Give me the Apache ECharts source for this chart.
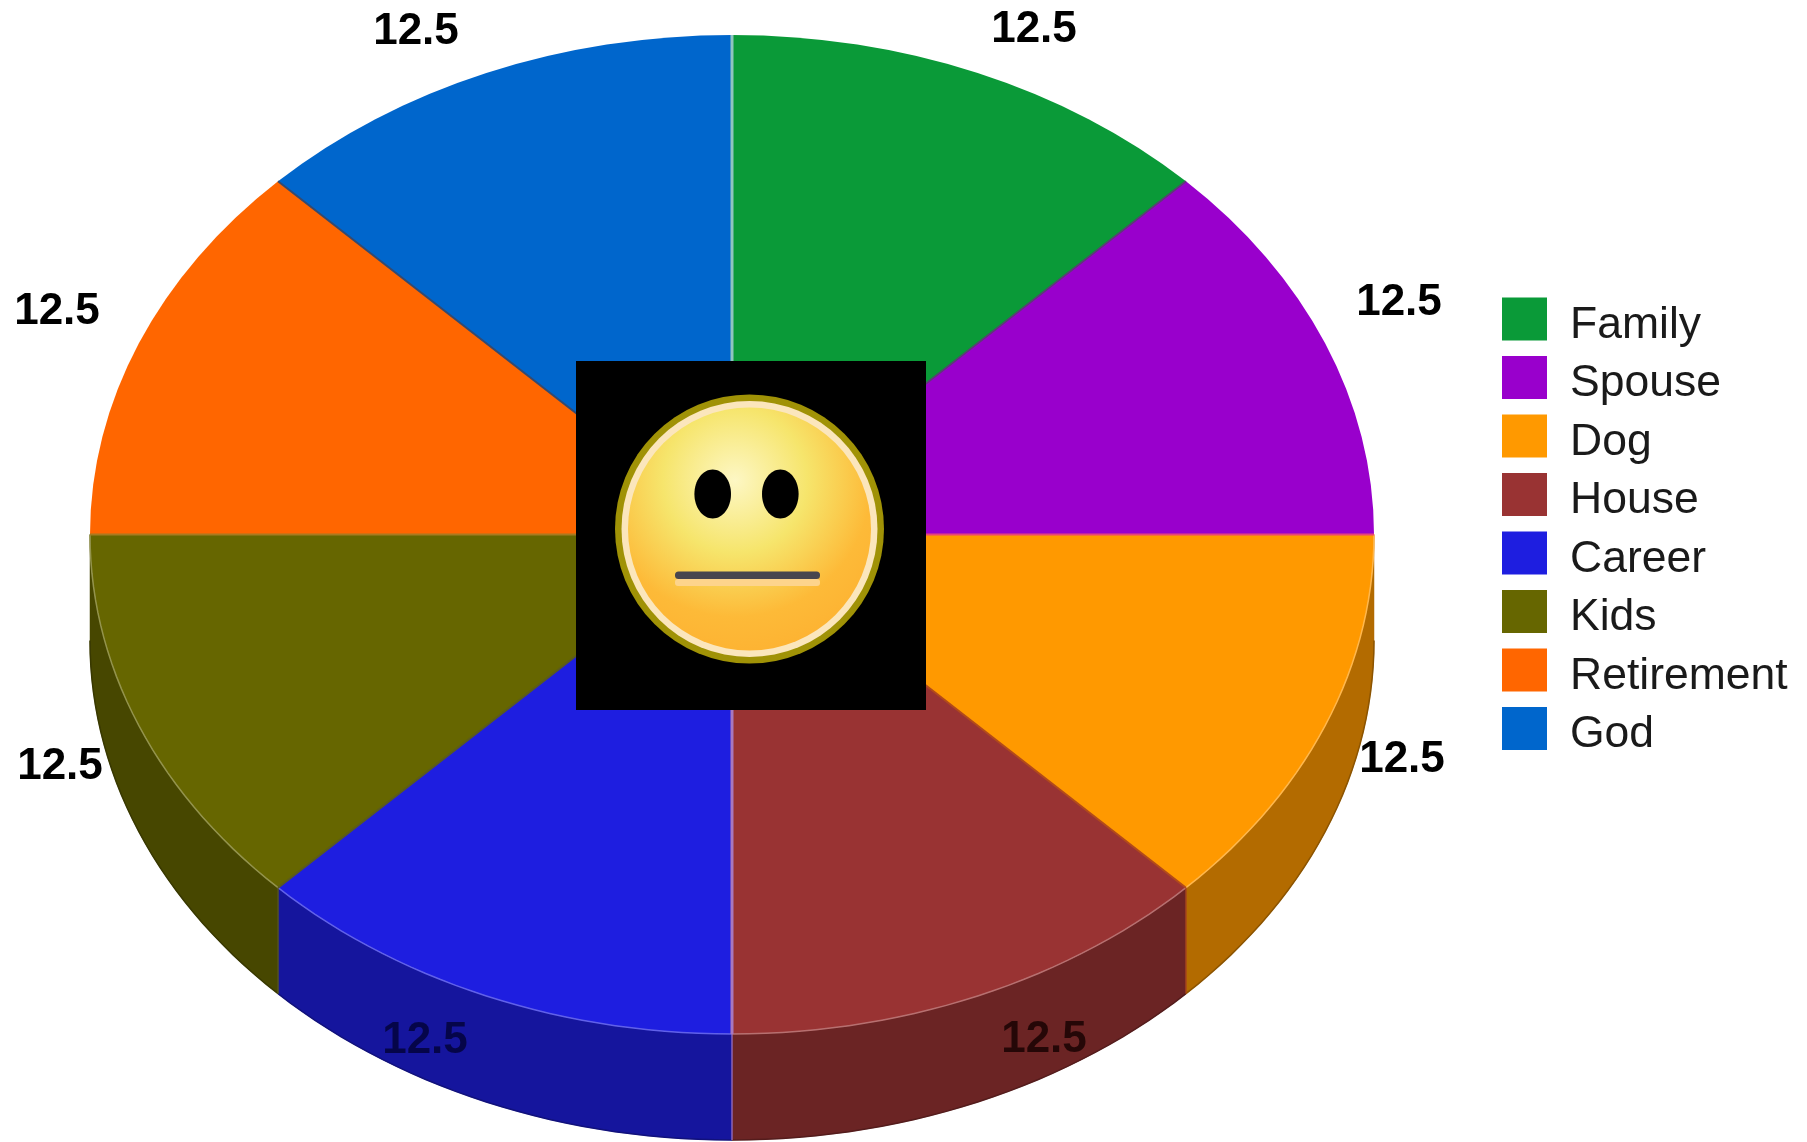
<!DOCTYPE html>
<html><head><meta charset="utf-8">
<style>html,body{margin:0;padding:0;background:#fff}#c{width:1807px;height:1142px}</style>
<script src="https://cdn.jsdelivr.net/npm/echarts@6/dist/echarts.min.js"></script>
</head><body><div id="c"></div>
<script>
const categories = ['Family','Spouse','Dog','House','Career','Kids','Retirement','God'];
const values = [12.5,12.5,12.5,12.5,12.5,12.5,12.5,12.5];
const colors = ['#0a9a38','#9900cc','#ff9900','#993333','#1e1ee0','#666600','#ff6600','#0066cc'];

// layout / styling, separate from the data
const PIE = {cx:732, cy:534.5, rx:642, ry:499.5, depth:106};
const labelPos = [[1034,30],[1399,303],[1402,760],[1044,1040],[425,1041],[60,767],[57,312],[416,32]];
const labelInk = ['#000','#000','#000','rgba(20,0,0,.8)','rgba(0,0,40,.72)','#000','#000','#000'];
const seamInk = ['#8fc4c0','#5d3a78','#e8447a','#b24a1a','#a878c0','#5a5a20','#a87a20','#344a70'];

const total = values.reduce((a,b)=>a+b,0);
const startDeg = values.map((_,i)=>-90 + 360*values.slice(0,i).reduce((a,b)=>a+b,0)/total);
const rad = d=>d*Math.PI/180;
const rim = (deg,dy=0)=>[PIE.cx+PIE.rx*Math.cos(rad(deg)), PIE.cy+PIE.ry*Math.sin(rad(deg))+dy];
const arc = (a,b,dy=0)=>{const p=[];for(let d=a;d<b;d+=1.5)p.push(rim(d,dy));p.push(rim(b,dy));return p;};
const shade = (hex,k)=>{const c=echarts.color.parse(hex);return 'rgb('+c.slice(0,3).map(v=>Math.round(v*k)).join(',')+')';};

function renderSlice(params, api){
  const i = params.seriesIndex;
  const v = api.value(0);
  const a = startDeg[i], b = a + 360*v/total;
  const col = colors[i];
  const children = [];
  const fa = Math.max(a,0), fb = Math.min(b,180);
  if (fa < fb){
    const top = arc(fa,fb), bot = arc(fa,fb,PIE.depth);
    children.push({type:'polygon',shape:{points:top.concat(bot.slice().reverse())},
      style:{fill:shade(col,.7),stroke:shade(col,.7),lineWidth:.5}});
    children.push({type:'polyline',z2:3,shape:{points:bot},
      style:{fill:null,stroke:shade(col,.55),lineWidth:1.5}});
    children.push({type:'polyline',z2:6,shape:{points:top},
      style:{fill:null,stroke:echarts.color.lift(col,0.3),lineWidth:1.5}});
  }
  children.push({type:'sector',x:PIE.cx,y:PIE.cy,scaleY:PIE.ry/PIE.rx,z2:2,
    shape:{cx:0,cy:0,r0:0,r:PIE.rx,startAngle:rad(a),endAngle:rad(b),clockwise:true},
    style:{fill:col}});
  const e = rim(a);
  children.push({type:'line',z2:8,shape:{x1:PIE.cx,y1:PIE.cy,x2:e[0],y2:e[1]},
    style:{stroke:seamInk[i],lineWidth:i===0||i===4?3:2}});
  if (a>0 && a<180){
    children.push({type:'line',z2:8,shape:{x1:e[0],y1:e[1],x2:e[0],y2:e[1]+PIE.depth},
      style:{stroke:seamInk[i],lineWidth:2,opacity:.6}});
  }
  children.push({type:'text',z2:20,x:labelPos[i][0],y:labelPos[i][1],
    style:{text:String(v),align:'center',verticalAlign:'middle',
      font:'bold 44px "Liberation Sans", Arial, sans-serif',fill:labelInk[i]}});
  return {type:'group',children};
}

const chart = echarts.init(document.getElementById('c'),null,{renderer:'canvas'});
const Z = 100;
chart.setOption({
  animation:false,
  backgroundColor:'#fff',
  legend:{
    orient:'vertical',left:1502,top:290,padding:0,
    data:categories,icon:'rect',itemWidth:45,itemHeight:43,itemGap:0.5,
    selectedMode:false,
    formatter:n=>'{t|'+n+'}',
    textStyle:{rich:{t:{fontFamily:'"Liberation Sans", Arial, sans-serif',fontSize:44.5,lineHeight:43,color:'#1a1a1a',padding:[13,0,0,18]}}}
  },
  series:categories.map((name,i)=>({
    type:'custom',name,coordinateSystem:'none',clip:false,
    itemStyle:{color:colors[i]},
    data:[[values[i]]],
    renderItem:renderSlice,silent:true
  })),
  graphic:{elements:[
    {type:'rect',z:Z,shape:{x:576,y:361,width:350,height:349},style:{fill:'#000'}},
    {type:'circle',z:Z+1,shape:{cx:749.5,cy:529,r:134.5},style:{fill:'#a09206'}},
    {type:'circle',z:Z+2,shape:{cx:749.5,cy:529,r:128},style:{fill:'#fbe6bc'}},
    {type:'circle',z:Z+3,shape:{cx:749.5,cy:529,r:121.5},style:{fill:{type:'radial',x:.44,y:.30,r:.78,colorStops:[
      {offset:0,color:'#fdf7c4'},{offset:.38,color:'#f6e56c'},{offset:.72,color:'#fdba38'},{offset:1,color:'#fdb030'}]}}},
    {type:'ellipse',z:Z+4,shape:{cx:712.7,cy:494,rx:18.3,ry:24.5},style:{fill:'#000'}},
    {type:'ellipse',z:Z+4,shape:{cx:780.3,cy:494,rx:18.3,ry:24.5},style:{fill:'#000'}},
    {type:'rect',z:Z+4,shape:{x:675,y:579,width:145,height:7,r:3},style:{fill:'#fdd48c'}},
    {type:'rect',z:Z+5,shape:{x:675,y:571.5,width:145,height:7.5,r:3.5},style:{fill:'#48464e'}}
  ]}
});
</script></body></html>
